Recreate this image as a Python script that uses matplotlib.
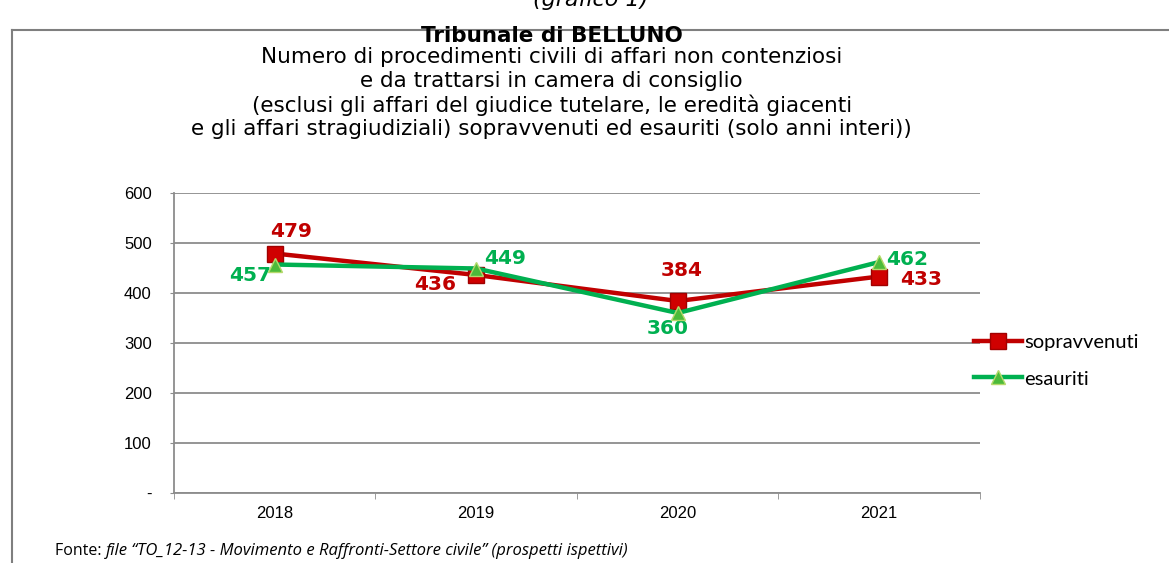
import matplotlib.pyplot as plt
from matplotlib.lines import Line2D

anni = ['2018', '2019', '2020', '2021']
sopravvenuti = [479, 436, 384, 433]
esauriti = [457, 449, 360, 462]
y_ticks = [0, 100, 200, 300, 400, 500, 600]
y_labels = ['-', '100', '200', '300', '400', '500', '600']

rosso = '#C00000'
verde = '#00B050'
grigio = '#8C8C8C'

fig = plt.figure(figsize=(11.69, 5.63), dpi=100)
ax = fig.add_axes([0.1488, 0.1243, 0.6895, 0.5329])

x = range(len(anni))
ax.plot(x, sopravvenuti, color=rosso, lw=3.2, marker='s', ms=11,
        mfc='#D00000', mec='#A00000', zorder=3)
ax.plot(x, esauriti, color=verde, lw=3.2, marker='^', ms=10,
        mfc='#4CBB3A', mec='#B5D96B', zorder=4)

# etichette dei valori (spostamenti in punti)
off_s = [(11.5, 15.5), (-29.5, -6.5), (3, 22), (30, -2)]
off_e = [(-18, -8), (21, 7), (-7, -11.5), (20, 1.5)]
for i in x:
    ax.annotate(str(sopravvenuti[i]), (i, sopravvenuti[i]), xytext=off_s[i],
                textcoords='offset points', ha='center', va='center',
                color=rosso, fontsize=14.5, fontweight='bold', family='DejaVu Sans')
    ax.annotate(str(esauriti[i]), (i, esauriti[i]), xytext=off_e[i],
                textcoords='offset points', ha='center', va='center',
                color=verde, fontsize=14.5, fontweight='bold', family='DejaVu Sans')

ax.set_xlim(-0.5, 3.5)
ax.set_ylim(0, 600)
ax.set_yticks(y_ticks)
ax.set_yticklabels(y_labels, family='Liberation Sans', fontsize=12)
ax.set_xticks(x)
ax.set_xticklabels(anni, family='Liberation Sans', fontsize=12)
ax.set_xticks([-0.5, 0.5, 1.5, 2.5, 3.5], minor=True)
ax.tick_params(axis='x', which='major', length=0, pad=9)
ax.tick_params(axis='x', which='minor', length=4, color=grigio, direction='out')
ax.tick_params(axis='y', length=3, color=grigio, pad=13)
ax.grid(axis='y', color=grigio, lw=1.3)
ax.set_axisbelow(True)
for s in ['top', 'right']:
    ax.spines[s].set_visible(False)
for s in ['left', 'bottom']:
    ax.spines[s].set_color(grigio)
    ax.spines[s].set_linewidth(1.3)

handles = [Line2D([], [], color=rosso, lw=3.2, marker='s', ms=11, mfc='#D00000', mec='#A00000'),
           Line2D([], [], color=verde, lw=3.2, marker='^', ms=10, mfc='#4CBB3A', mec='#B5D96B')]
fig.legend(handles, ['sopravvenuti', 'esauriti'], loc='center left',
           bbox_to_anchor=(0.8175, 0.359), frameon=False, handlelength=2.4,
           handletextpad=0.1, labelspacing=0.95, prop={'family': 'Lato', 'size': 14.5})

# titoli
xc = 0.472
fig.text(0.505, 1.0, '(grafico 1)', ha='center', va='center', style='italic',
         fontsize=16, family='DejaVu Sans')
fig.text(xc, 0.936, 'Tribunale di BELLUNO', ha='center', va='center',
         fontsize=15.5, fontweight='bold', family='DejaVu Sans')
righe = ['Numero di procedimenti civili di affari non contenziosi',
         'e da trattarsi in camera di consiglio',
         '(esclusi gli affari del giudice tutelare, le eredità giacenti',
         'e gli affari stragiudiziali) sopravvenuti ed esauriti (solo anni interi))']
for k, r in enumerate(righe):
    fig.text(xc, 0.898 - k * 0.0425, r, ha='center', va='center',
             fontsize=15.5, family='DejaVu Sans')

# cornice
fig.add_artist(Line2D([0.0103, 0.0103], [0, 0.947], color='#7F7F7F', lw=1.5))
fig.add_artist(Line2D([0.0103, 1.0], [0.947, 0.947], color='#7F7F7F', lw=1.5))

fonte = fig.text(0.047, 0.022, 'Fonte: ', fontsize=11.5, family='Open Sans', va='center')
ax.annotate('file \u201cTO_12-13 - Movimento e Raffronti-Settore civile\u201d (prospetti ispettivi)',
            xy=(1, 0.5), xycoords=fonte, va='center', ha='left',
            fontsize=12, family='Open Sans', style='italic', annotation_clip=False)

fig.savefig('out.png', dpi=100)
